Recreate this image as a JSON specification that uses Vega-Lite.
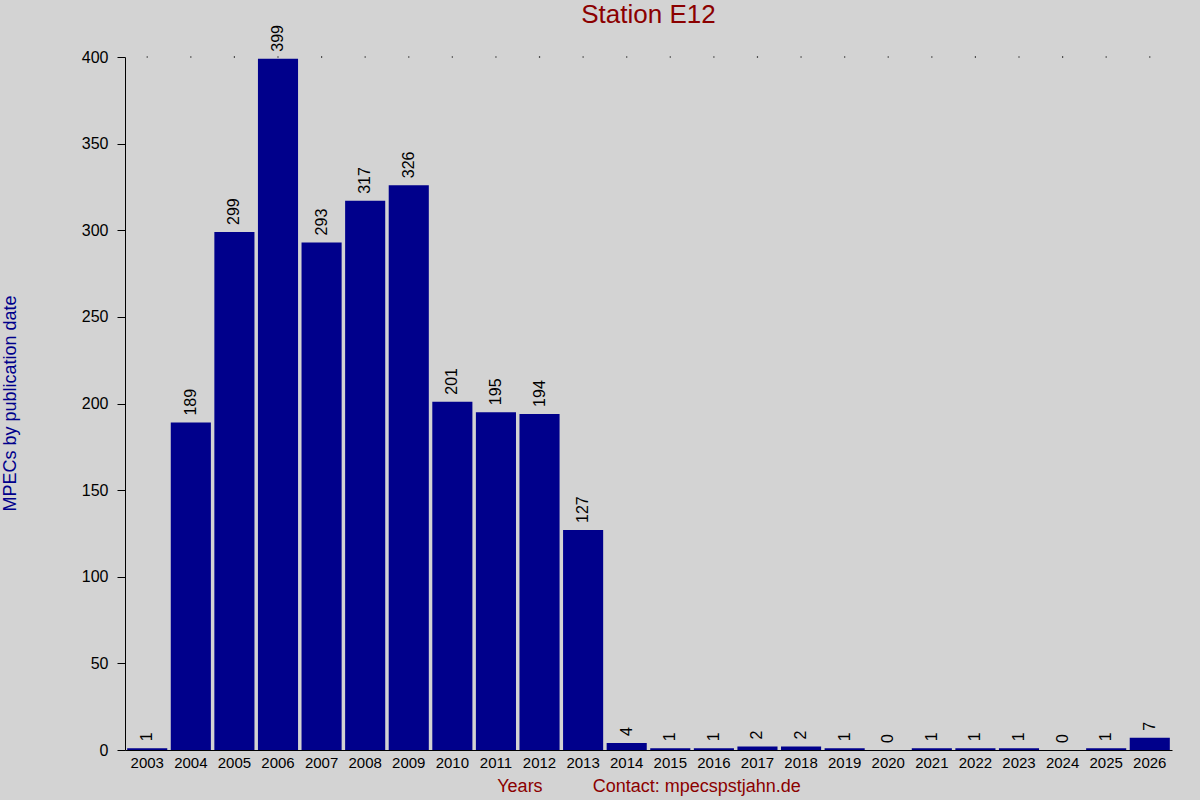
{
  "$schema": "https://vega.github.io/schema/vega-lite/v6.json",
  "width": 1047,
  "height": 693,
  "autosize": {"type": "none"},
  "padding": {"left": 125, "top": 57, "right": 28, "bottom": 50},
  "background": "#D3D3D3",
  "title": {
    "text": "Station E12",
    "color": "#8B0000",
    "font": "Liberation Sans",
    "fontSize": 26,
    "fontWeight": "normal",
    "anchor": "middle",
    "frame": "group",
    "baseline": "alphabetic",
    "offset": -24
  },
  "config": {
    "view": {"stroke": null},
    "font": "Liberation Sans",
    "axis": {"grid": false, "domainColor": "black", "tickColor": "black", "labelColor": "black"}
  },
  "data": {
    "values": [
      {"year": "2003", "count": 1},
      {"year": "2004", "count": 189},
      {"year": "2005", "count": 299},
      {"year": "2006", "count": 399},
      {"year": "2007", "count": 293},
      {"year": "2008", "count": 317},
      {"year": "2009", "count": 326},
      {"year": "2010", "count": 201},
      {"year": "2011", "count": 195},
      {"year": "2012", "count": 194},
      {"year": "2013", "count": 127},
      {"year": "2014", "count": 4},
      {"year": "2015", "count": 1},
      {"year": "2016", "count": 1},
      {"year": "2017", "count": 2},
      {"year": "2018", "count": 2},
      {"year": "2019", "count": 1},
      {"year": "2020", "count": 0},
      {"year": "2021", "count": 1},
      {"year": "2022", "count": 1},
      {"year": "2023", "count": 1},
      {"year": "2024", "count": 0},
      {"year": "2025", "count": 1},
      {"year": "2026", "count": 7}
    ]
  },
  "encoding": {
    "x": {
      "field": "year",
      "type": "ordinal",
      "scale": {"paddingInner": 0.08, "paddingOuter": 0.05},
      "axis": {
        "title": "Years\u00a0\u00a0\u00a0\u00a0\u00a0\u00a0\u00a0\u00a0\u00a0\u00a0Contact: mpecspstjahn.de",
        "titleColor": "#8B0000",
        "titleFontSize": 18,
        "titleFontWeight": "normal",
        "titlePadding": 7,
        "labelAngle": 0,
        "labelFontSize": 15,
        "labelPadding": 5,
        "ticks": false,
        "domainWidth": 1
      }
    },
    "y": {
      "field": "count",
      "type": "quantitative",
      "scale": {"domain": [0, 400], "nice": false},
      "axis": {
        "title": "MPECs by publication date",
        "titleColor": "#00008B",
        "titleFontSize": 18,
        "titleFontWeight": "normal",
        "titleX": -115,
        "titleY": 346,
        "titleAngle": -90,
        "titleAlign": "center",
        "titleBaseline": "middle",
        "values": [0, 50, 100, 150, 200, 250, 300, 350, 400],
        "labelFontSize": 16,
        "labelPadding": 9,
        "tickSize": 8,
        "domainWidth": 1
      }
    }
  },
  "layer": [
    {
      "mark": {"type": "bar", "color": "#00008B"}
    },
    {
      "mark": {"type": "text", "angle": -90, "align": "left", "baseline": "middle", "dx": 7, "fontSize": 16, "color": "black"},
      "encoding": {
        "text": {"field": "count", "type": "quantitative"}
      }
    },
    {
      "mark": {"type": "square", "size": 1.5, "color": "black", "opacity": 1, "filled": true},
      "encoding": {
        "y": {"datum": 400}
      }
    }
  ]
}
